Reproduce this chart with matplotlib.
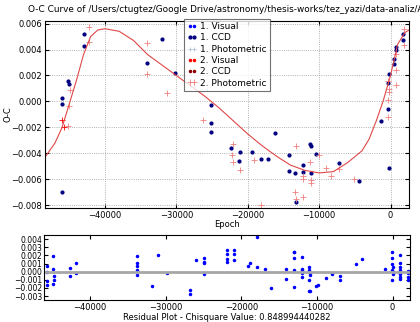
import matplotlib
matplotlib.use("Agg")
import matplotlib.pyplot as plt

# --- O-C data (epoch, O-C) ---
vis1_epoch, vis1_oc = [], []
ccd1_epoch = [-42900, -42900, -45130, -45000, -45970, -45970, -45970,
              -34170, -32070, -30210, -25170, -25170, -25170, -22280, -21120, -21220,
              -19340, -18080, -17160, -16220, -14220, -14220, -13330, -13190, -12260,
              -12260, -11330, -11190, -11090, -10400, -7230, -4430, -1300, -380,
              -380, -280, -280, 520, 800, 700, 520, 1720, 1720]
ccd1_oc = [0.00523, 0.00426, 0.00159, 0.00133, 0.00024, -0.00022, -0.00695,
           0.00300, 0.00483, 0.00217, -0.00027, -0.00167, -0.00232, -0.00356, -0.00392, -0.00461,
           -0.00392, -0.00440, -0.00446, -0.00244, -0.00415, -0.00538, -0.00550, -0.00772, -0.00486,
           -0.00540, -0.00326, -0.00339, -0.00548, -0.00408, -0.00476, -0.00614, -0.00148, -0.00058,
           0.00139, 0.00210, -0.00510, 0.00330, 0.00396, 0.00419, 0.00286, 0.00472, 0.00516]
phot1_epoch, phot1_oc = [], []
vis2_epoch, vis2_oc = [], []
ccd2_epoch, ccd2_oc = [], []
phot2_epoch = [-42200, -42200, -44900, -45030, -45130,
               -34170, -34080, -31290, -26250, -22050, -22140, -22050, -21120, -19120, -18180,
               -13190, -13430, -13290, -12260, -12260, -12260, -11330, -11190, -11090,
               -10070, -9000, -8350, -7230, -5130, -380, -280, -240, -320, -380,
               800, 800, 800, 1820, 1820]
phot2_oc = [0.00575, 0.00457, 0.00089, -0.00033, -0.00190,
            0.00452, 0.00210, 0.00062, -0.00142, -0.00328, -0.00415, -0.00466, -0.00525, -0.00448, -0.00800,
            -0.00346, -0.00700, -0.00752, -0.00734, -0.00576, -0.00600, -0.00466, -0.00627, -0.00601,
            -0.00415, -0.00509, -0.00576, -0.00517, -0.00594, 0.00158, 0.00095, 0.00070, 0.00013, -0.00122,
            0.00126, 0.00240, 0.00368, 0.00432, 0.00560]
red_epoch = [-45970, -45800]
red_oc = [-0.00144, -0.00200]

# fitted model curve
fit_epoch = [-48400, -47000, -46000, -45000, -44000, -43000, -42000, -41000, -40000,
             -38000, -36000, -34000, -32000, -30000, -28000, -26000, -24000, -22000,
             -20000, -18000, -16000, -14000, -12000, -10000, -8000, -6000, -4000,
             -3000, -2000, -1000, 0, 1000, 2000, 2600]
fit_oc = [-0.0043, -0.0032, -0.0020, -0.0002, 0.0016, 0.0036, 0.0050, 0.0055, 0.0056,
          0.0054, 0.0047, 0.0036, 0.0028, 0.0020, 0.0012, 0.0004, -0.0005, -0.0015,
          -0.0025, -0.0034, -0.0042, -0.0049, -0.0053, -0.0055, -0.0054, -0.0047, -0.0038,
          -0.0029, -0.0015, 0.0001, 0.0020, 0.0044, 0.0053, 0.0055]

# residuals
res_epoch = [-45700, -45700, -45700, -45700, -44870, -44870, -44780, -44780, -44870,
             -42670, -42670, -41880, -41880, -33860, -33860, -33860, -33860, -33860,
             -31800, -31040, -29900, -26820, -26820, -26020, -24930, -24930, -24930, -24930,
             -21890, -21890, -21890, -21890, -21000, -21000, -21000, -19110, -18890, -17870,
             -17870, -16910, -16020, -14040, -14040, -13080, -13000, -13080, -13080, -13000,
             -12020, -12020, -12020, -12020, -12020, -11100, -11000, -10900, -10950, -11050,
             -11100, -10900, -10170, -9870, -8760, -8060, -8060, -7000, -7000, -4890, -4100,
             -1060, -90, -90, -90, 0, -90, 0, 0, -90, 1010, 1010, 1010, 1000, 1000, 1010,
             1000, 1010, 2020, 2020, 2020, 2030]
res_oc = [0.00067, -0.00003, -0.00118, -0.00160, 0.00194, 0.00030, -0.00057, -0.00106, -0.00156,
          0.00046, -0.00053, 0.00104, -0.00011, 0.00194, 0.00107, 0.00067, 0.00017, -0.00036,
          -0.00180, 0.00202, -0.00011, -0.00230, -0.00270, 0.00144, 0.00174, 0.00116, 0.00107, -0.00024,
          0.00264, 0.00211, 0.00153, 0.00120, 0.00215, 0.00272, 0.00145, 0.00067, 0.00112, 0.00420,
          0.00062, 0.00030, -0.00205, 0.00030, -0.00094, 0.00236, 0.00243, 0.00169, 0.00021, -0.00184,
          0.00181, 0.00038, 0.00017, -0.00011, -0.00065, 0.00058, 0.00026, -0.00016, -0.00036, -0.00106,
          -0.00242, -0.00242, -0.00177, -0.00160, -0.00078, -0.00011, -0.00028, -0.00053, -0.00098, 0.00088, 0.00150,
          0.00030, 0.00236, 0.00174, 0.00100, 0.00058, 0.00017, -0.00003, -0.00032, -0.00098, 0.00206, 0.00107, 0.00058,
          0.00017, -0.00003, -0.00032, -0.00065, -0.00094, 0.00010, -0.00022, -0.00065, -0.00106]
chisq = 0.848994440282

plt.rcParams['font.family'] = ['DejaVu Sans']
plt.rcParams['font.size'] = 6
plt.rcParams['xtick.direction'] = 'in'
plt.rcParams['ytick.direction'] = 'in'
plt.rcParams['xtick.top'] = True
plt.rcParams['ytick.right'] = True

fig = plt.figure(figsize=(4.2, 3.22), dpi=100)
ax = fig.add_axes([0.107, 0.354, 0.867, 0.581])
ax2 = fig.add_axes([0.105, 0.068, 0.871, 0.202])

ax.plot(vis1_epoch, vis1_oc, '.', color='blue', ms=3, label='1. Visual')
ax.plot(ccd1_epoch, ccd1_oc, '.', color='navy', ms=4, label='1. CCD')
ax.plot(phot1_epoch, phot1_oc, '+', color='lightsteelblue', ms=3.5, mew=0.6, label='1. Photometric')
ax.plot(vis2_epoch, vis2_oc, '.', color='red', ms=3, label='2. Visual')
ax.plot(ccd2_epoch, ccd2_oc, '.', color='darkred', ms=3, label='2. CCD')
ax.plot(phot2_epoch, phot2_oc, '+', color='lightcoral', ms=4, mew=0.6, label='2. Photometric')
ax.plot(red_epoch, red_oc, '+', color='red', ms=4, mew=0.6)
ax.plot(fit_epoch, fit_oc, '-', color='#e04848', lw=0.8)

ax.set_xlim(-48400, 2600)
ax.set_ylim(-0.0082, 0.0062)
ax.set_yticks([-0.008, -0.006, -0.004, -0.002, 0.0, 0.002, 0.004, 0.006])
ax.set_xticks([-40000, -30000, -20000, -10000, 0])
ax.grid(True, linestyle=':', color='0.6', lw=0.6)
ax.set_xlabel('Epoch', labelpad=0)
ax.set_ylabel('O-C')
ax.yaxis.set_label_coords(-0.09, 0.5)
ax.tick_params(length=3, pad=2)
leg = ax.legend(loc='upper center', bbox_to_anchor=(0.5, 1.01), numpoints=2, fancybox=False,
                fontsize=6.5, handlelength=1.0, handletextpad=0.4, borderpad=0.35,
                labelspacing=0.25, borderaxespad=0.0)
leg.get_frame().set_edgecolor('0.3')
leg.get_frame().set_linewidth(0.8)

fig.text(28 / 420, 1 - 10 / 322,
         'O-C Curve of /Users/ctugtez/Google Drive/astronomy/thesis-works/tez_yazi/data-analiz/AM_Leo_ANGORA.txt',
         ha='left', va='center', fontsize=6.4)

ax2.plot(res_epoch, res_oc, '.', color='blue', ms=3)
ax2.axhline(0, color='0.65', lw=2)
ax2.set_xlim(-46100, 2300)
ax2.set_ylim(-0.0035, 0.0045)
ax2.set_yticks([-0.003, -0.002, -0.001, 0.0, 0.001, 0.002, 0.003, 0.004])
ax2.set_xticks([-40000, -30000, -20000, -10000, 0])
ax2.tick_params(length=3, pad=2)
ax2.tick_params(axis='y', labelsize=5.5, pad=1.5)
ax2.set_xlabel('Residual Plot - Chisquare Value: ' + str(chisq), labelpad=1)

fig.savefig('out.png', dpi=100, facecolor='white')
